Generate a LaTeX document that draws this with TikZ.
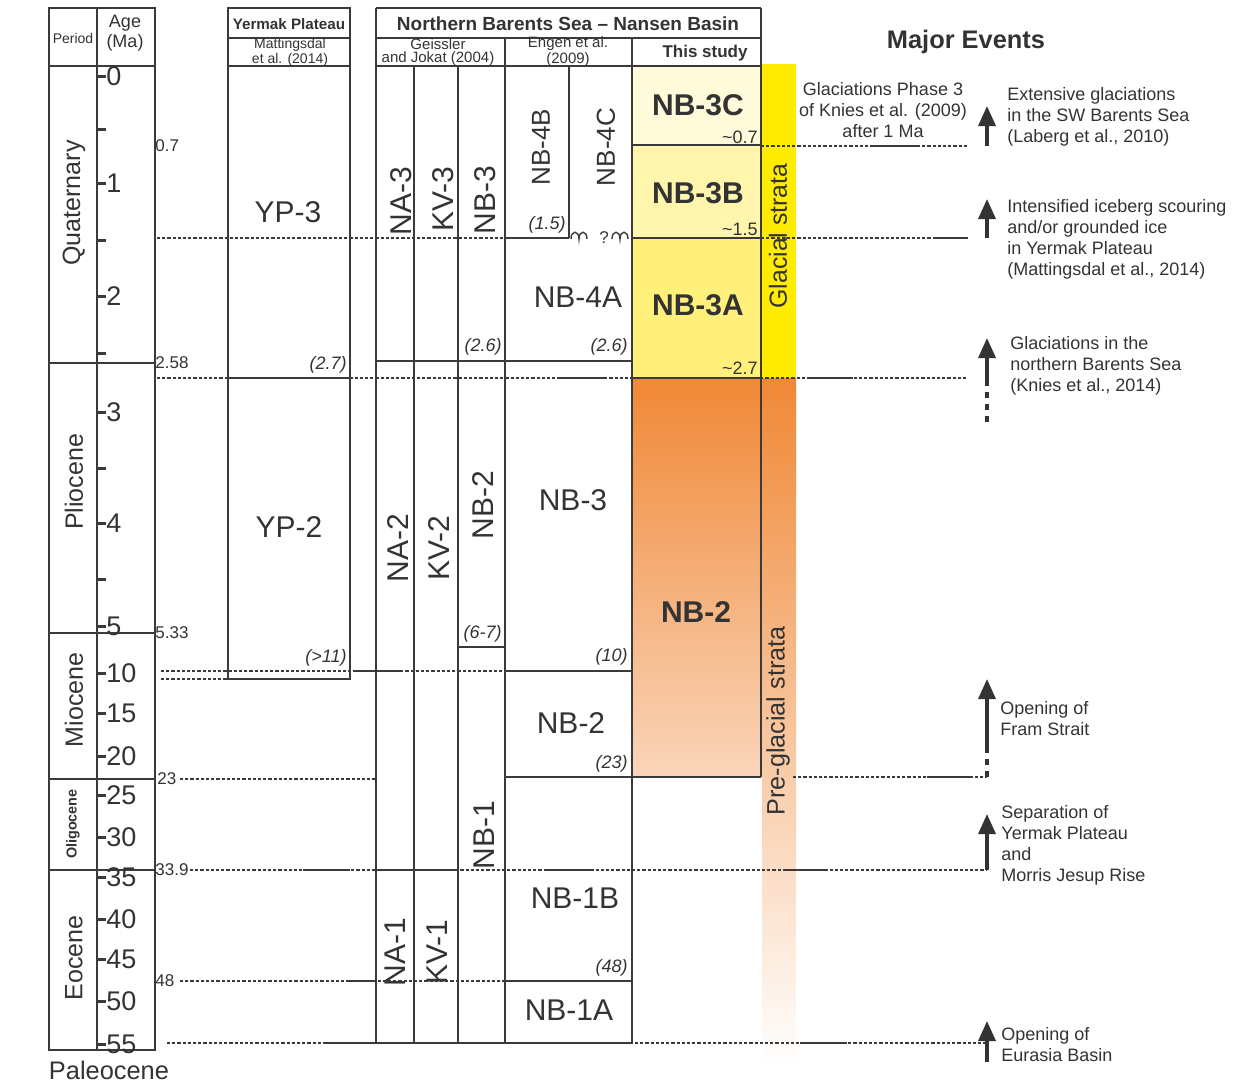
\documentclass[tikz,border=0pt]{standalone}
\usepackage{fontspec}
\setmainfont{Liberation Sans}
\usepackage{tikz}
\usetikzlibrary{arrows.meta,positioning}
\definecolor{ink}{HTML}{333333}
\definecolor{rule}{HTML}{3A3A3A}
\definecolor{cream}{HTML}{FFFADA}
\definecolor{paleyel}{HTML}{FFF5AC}
\definecolor{midyel}{HTML}{FFF07C}
\definecolor{glacyel}{HTML}{FFEC00}
\definecolor{preorange}{HTML}{F08836}
\definecolor{preorangelo}{HTML}{FAD5BA}
\newcommand{\fs}[2]{\fontsize{#1}{#2}\selectfont}
\tikzset{
  frame/.style    = {draw=rule, line width=0.8pt},
  ageline/.style  = {draw=rule, line width=0.7pt, dash pattern=on 1.6pt off 1pt},
  agetick/.style  = {draw=rule, line width=1.5pt},
  unitlbl/.style  = {font=\fs{15}{15}},
  vunitlbl/.style = {font=\fs{15}{15}, rotate=90},
  studylbl/.style = {font=\bfseries\fs{15}{15}},
  agenote/.style  = {font=\itshape\fs{9}{9}, anchor=south east, inner sep=1pt},
  bndlbl/.style   = {font=\fs{8.5}{8.5}, anchor=west},
  hdr/.style      = {font=\fs{7}{6.5}, align=center},
  event/.style    = {font=\fs{9}{10.5}, align=left, anchor=north west},
  rise/.style     = {-{Triangle[length=10pt,width=8.5pt]}, line width=1.7pt, draw=ink},
  risedash/.style = {line width=1.7pt, draw=ink, dash pattern=on 3pt off 3pt},
  bumps/.style    = {draw=rule, line width=0.7pt},
}

\begin{document}
\begin{tikzpicture}[x=0.5pt, y=-0.5pt, every node/.style={text=ink, inner sep=0pt}]
\useasboundingbox (0,0) rectangle (1252,1084);
% ---------------- colour fills ----------------
\fill[cream]   (632,66)  rectangle (761,145);
\fill[paleyel] (632,145) rectangle (761,238);
\fill[midyel]  (632,238) rectangle (761,378);
\shade[top color=preorange, bottom color=preorangelo] (632,378) rectangle (761,777);
\fill[glacyel] (762,64) rectangle (796,378);
\shade[top color=preorange, bottom color=white] (762,378) rectangle (796,1066);

% ---------------- period / age scale ----------------
\draw[frame] (49,8) rectangle (155,1050);
\draw[frame] (97,8) -- (97,1050);
\draw[frame] (49,66) -- (155,66);
\foreach \y in {363,633,779,870} \draw[frame] (49,\y) -- (155,\y);
\node[font=\fs{7}{7}] (perhdr) at (73,38) {Period};
\node[font=\fs{9}{10}, align=center] (agehdr) at (125,33) {Age\\(Ma)};
\foreach \a/\y in {0/76,1/183,2/296,3/412,4/523,5/626,10/673,15/713,20/756,
                   25/795,30/837,35/877,40/919,45/959,50/1001,55/1044}{
  \draw[agetick] (97,\y) -- (106,\y);
  \node[anchor=west, font=\fs{13.5}{13.5}] (tk\a) at (106,\y) {\a};
}
\foreach \y in {129,240,353,468,579} \draw[agetick] (97,\y) -- (106,\y);
\node[font=\fs{12.5}{12.5}, rotate=90] (quat)  at (74,203) {Quaternary};
\node[font=\fs{12.5}{12.5}, rotate=90] (plio)  at (74,482) {Pliocene};
\node[font=\fs{12.5}{12.5}, rotate=90] (mioc)  at (74,700) {Miocene};
\node[font=\bfseries\fs{7.2}{7.2}, rotate=90] (olig) at (73,824) {Oligocene};
\node[font=\fs{12.5}{12.5}, rotate=90] (eoc)   at (74,958) {Eocene};
\node[font=\fs{12.7}{12.7}] (paleo) at (109,1070) {Paleocene};
\node[bndlbl] (b07)  at (155,146) {0.7};
\node[bndlbl] (b258) at (155,363) {2.58};
\node[bndlbl] (b533) at (155,633) {5.33};
\node[bndlbl] (b23)  at (157,779) {23};
\node[bndlbl] (b339) at (155,870) {33.9};
\node[bndlbl] (b48)  at (155,981) {48};

% ---------------- Yermak Plateau ----------------
\draw[frame] (228,8) rectangle (350,679);
\draw[frame] (228,38) -- (350,38);
\draw[frame] (228,66) -- (350,66);
\draw[frame] (228,378) -- (350,378);
\node[font=\bfseries\fs{7.6}{7.6}] (yphdr) at (289,24) {Yermak Plateau};
\node[hdr] (ypref) at (290,52) {Mattingsdal\\et al. (2014)};
\node[unitlbl] (yp3) at (288,212) {YP-3};
\node[unitlbl] (yp2) at (289,527) {YP-2};
\node[agenote] (n27)  at (349,376) {(2.7)};
\node[agenote] (n11)  at (349,669) {(>11)};

% ---------------- Northern Barents Sea ----------------
\draw[frame] (376,8) -- (761,8);
\draw[frame] (376,38) -- (761,38);
\draw[frame] (376,66) -- (761,66);
\draw[frame] (376,8) -- (376,1043);
\draw[frame] (761,8) -- (761,777);
\draw[frame] (414,66) -- (414,1043);
\draw[frame] (458,66) -- (458,1043);
\draw[frame] (505,38) -- (505,1043);
\draw[frame] (569,66) -- (569,238);
\draw[frame] (632,38) -- (632,1043);
\node[font=\bfseries\fs{9.5}{9.5}] (nbshdr) at (568,24) {Northern Barents Sea -- Nansen Basin};
\node[hdr, font=\fs{7.5}{6.5}] (gjref) at (438,52) {Geissler\\and Jokat (2004)};
\node[hdr, font=\fs{7.5}{6.5}] (enref) at (568,52) {Engen et al.\\(2009)};
\node[font=\bfseries\fs{8.5}{8.5}] (study) at (705,53) {This study};
% Geissler and Jokat
\draw[frame] (376,361) -- (632,361);
\draw[frame] (458,647) -- (505,647);
\draw[frame] (376,870) -- (458,870);
\node[vunitlbl] (na3) at (401,201) {NA-3};
\node[vunitlbl] (kv3) at (443,199) {KV-3};
\node[vunitlbl] (nb3g) at (485,200) {NB-3};
\node[vunitlbl] (na2) at (398,548) {NA-2};
\node[vunitlbl] (kv2) at (439,548) {KV-2};
\node[vunitlbl] (nb2g) at (483,505) {NB-2};
\node[vunitlbl] (nb1g) at (484,835) {NB-1};
\node[vunitlbl] (na1) at (395,952) {NA-1};
\node[vunitlbl] (kv1) at (437,952) {KV-1};
\node[agenote] (n26g) at (504,358) {(2.6)};
\node[agenote] (n67)  at (504,645) {(6-7)};
% Engen et al.
\draw[frame] (505,238) -- (569,238);
\draw[bumps] (571,239) .. controls +(0,-9) and +(0,-9) .. ++(8,0)
   .. controls +(0,-9) and +(0,-9) .. ++(8,0);
\draw[bumps] (612,239) .. controls +(0,-9) and +(0,-9) .. ++(8,0)
   .. controls +(0,-9) and +(0,-9) .. ++(8,0);
\node[font=\fs{8.5}{8.5}] (qmark) at (604,238) {?};
\draw[frame] (505,671) -- (632,671);
\draw[frame] (505,777) -- (761,777);
\draw[frame] (505,981) -- (632,981);
\draw[frame] (376,1043) -- (632,1043);
\node[vunitlbl, font=\fs{13}{13}] (nb4b) at (541,147) {NB-4B};
\node[vunitlbl, font=\fs{13}{13}] (nb4c) at (606,147) {NB-4C};
\node[unitlbl] (nb4a) at (578,297) {NB-4A};
\node[unitlbl] (nb3e) at (573,500) {NB-3};
\node[unitlbl] (nb2e) at (571,723) {NB-2};
\node[unitlbl] (nb1b) at (575,898) {NB-1B};
\node[unitlbl] (nb1a) at (569,1010) {NB-1A};
\node[agenote] (n15)  at (568,236) {(1.5)};
\node[agenote] (n26e) at (630,358) {(2.6)};
\node[agenote] (n10)  at (630,668) {(10)};
\node[agenote] (n23)  at (630,775) {(23)};
\node[agenote] (n48)  at (630,979) {(48)};
% this study
\draw[frame] (632,145) -- (761,145);
\draw[frame] (632,238) -- (761,238);
\draw[frame] (632,378) -- (761,378);
\node[studylbl] (nb3c) at (698,105) {NB-3C};
\node[studylbl] (nb3b) at (698,193) {NB-3B};
\node[studylbl] (nb3a) at (698,305) {NB-3A};
\node[studylbl] (nb2s) at (696,612) {NB-2};
\node[font=\fs{9}{9}, anchor=south east] (s07) at (758,144) {\textasciitilde0.7};
\node[font=\fs{9}{9}, anchor=south east] (s15) at (758,236) {\textasciitilde1.5};
\node[font=\fs{9}{9}, anchor=south east] (s27) at (758,375) {\textasciitilde2.7};
\node[font=\fs{12.4}{12.4}, rotate=90] (glac) at (778,236) {Glacial strata};
\node[font=\fs{12.6}{12.6}, rotate=90] (preg) at (778,721) {Pre-glacial strata};

% ---------------- age lines ----------------
\draw[ageline] (761,146) -- (968,146);  \draw[frame] (873,146) -- (918,146);
\draw[ageline] (157,238) -- (505,238);
\draw[ageline] (761,238) -- (968,238);  \draw[frame] (933,238) -- (968,238);
\draw[ageline] (157,378) -- (968,378);
\draw[frame] (560,378) -- (607,378);    \draw[frame] (807,378) -- (853,378);
\draw[ageline] (161,671) -- (505,671);  \draw[frame] (353,671) -- (400,671);
\draw[ageline] (161,679) -- (228,679);
\draw[ageline] (180,779) -- (376,779);
\draw[ageline] (793,777) -- (987,777);  \draw[frame] (927,777) -- (973,777);
\draw[ageline] (190,870) -- (987,870);
\draw[frame] (303,870) -- (350,870);    \draw[frame] (547,870) -- (590,870);
\draw[frame] (783,870) -- (828,870);
\draw[ageline] (180,981) -- (505,981);  \draw[frame] (347,981) -- (376,981);
\draw[ageline] (167,1043) -- (987,1043);
\draw[frame] (323,1043) -- (376,1043);  \draw[frame] (800,1043) -- (847,1043);

% ---------------- major events ----------------
\node[font=\bfseries\fs{12.7}{12.7}] (major) at (966,42) {Major Events};
\node[font=\fs{9}{10.5}, align=center] (knies09) at (883,110)
   {Glaciations Phase 3\\of Knies et al. (2009)\\after 1 Ma};
\coordinate (e1base) at (987,146);  \coordinate (e1tip) at (987,106);
\coordinate (e2base) at (987,238);  \coordinate (e2tip) at (987,199);
\coordinate (e3foot) at (987,422);  \coordinate (e3base) at (987,380);
\coordinate (e3tip) at (987,338);
\coordinate (e4foot) at (987,777);  \coordinate (e4base) at (987,752);
\coordinate (e4tip) at (987,679);
\coordinate (e5base) at (987,870);  \coordinate (e5tip) at (987,814);
\coordinate (e6base) at (987,1062); \coordinate (e6tip) at (987,1021);
\draw[rise] (e1base) -- (e1tip);
\draw[rise] (e2base) -- (e2tip);
\draw[risedash] (e3foot) -- (e3base);
\draw[rise] (e3base) -- (e3tip);
\draw[risedash] (e4foot) -- (e4base);
\draw[rise] (e4base) -- (e4tip);
\draw[rise] (e5base) -- (e5tip);
\draw[rise] (e6base) -- (e6tip);
\node[event] (ev1) at (1007,87)
   {Extensive glaciations\\in the SW Barents Sea\\(Laberg et al., 2010)};
\node[event] (ev2) at (1007,199)
   {Intensified iceberg scouring\\and/or grounded ice\\in Yermak Plateau\\(Mattingsdal et al., 2014)};
\node[event] (ev3) at (1010,336)
   {Glaciations in the\\northern Barents Sea\\(Knies et al., 2014)};
\node[event] (ev4) at (1000,701) {Opening of\\Fram Strait};
\node[event] (ev5) at (1001,805)
   {Separation of\\Yermak Plateau\\and\\Morris Jesup Rise};
\node[event] (ev6) at (1001,1027) {Opening of\\Eurasia Basin};
\end{tikzpicture}
\end{document}
